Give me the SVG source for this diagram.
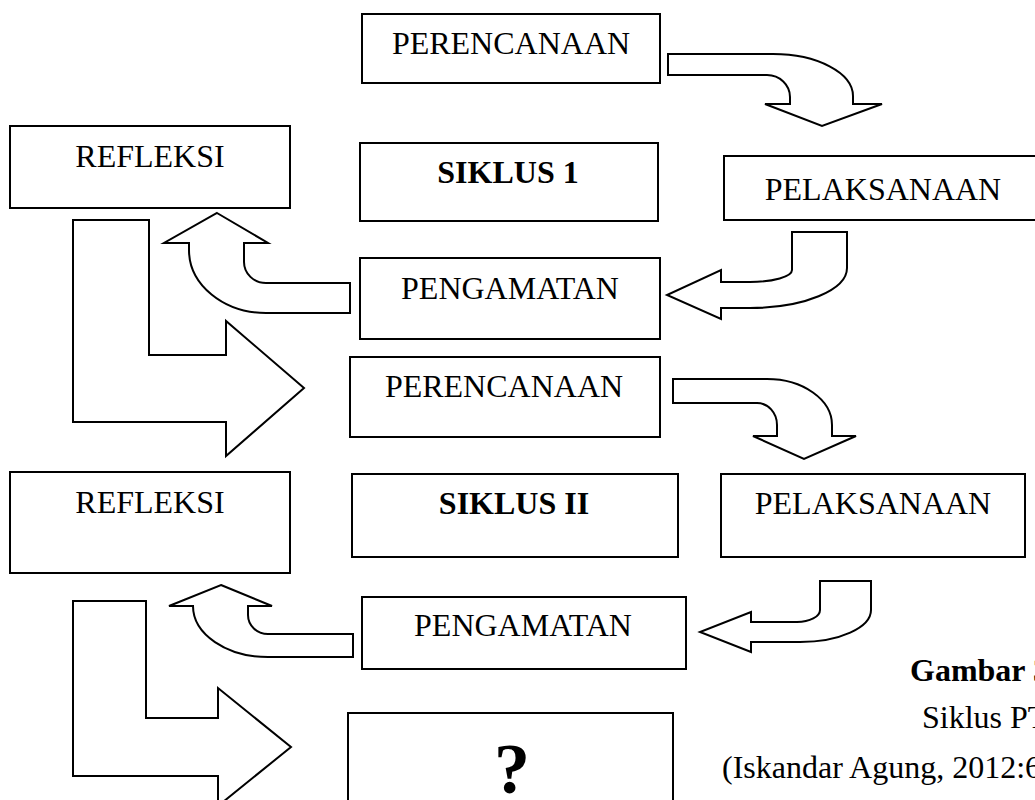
<svg xmlns="http://www.w3.org/2000/svg" width="1035" height="800" viewBox="0 0 1035 800">
<style>
.box{fill:#fff;stroke:#000;stroke-width:2}
.arr{fill:#fff;stroke:#000;stroke-width:2;stroke-linejoin:miter}
text{font-family:"Liberation Serif","Times New Roman",serif;font-size:32px;fill:#000}
.c{text-anchor:middle}
.b{font-weight:bold}
</style>
<rect width="1035" height="800" fill="#fff"/>
<g id="connectors">
<path class="arr" d="M 668 54 H 773 A 80 42 0 0 1 853 96 V 104 H 882 L 822 126 L 765 104 H 790 V 97 A 23 22 0 0 0 767 75 H 668 Z"/>
<path class="arr" d="M 792 232 H 847 V 268 A 97 40 0 0 1 750 308 H 721 V 319 L 667 295 L 721 270 V 282 H 750 A 42 12 0 0 0 792 270 Z"/>
<path class="arr" d="M 217 213 L 268 243 H 244 V 262 A 22 21 0 0 0 266 283 H 350 V 313 H 266 A 77 63 0 0 1 189 250 V 243 H 164 Z"/>
<path class="arr" d="M 73 220 H 149 V 355 H 226 V 321 L 304 388 L 226 456 V 422 H 73 Z"/>
<path class="arr" d="M 673 379 H 767 A 65 46 0 0 1 832 425 V 436 H 856 L 804 459 L 753 436 H 777 V 425 A 20 22 0 0 0 757 403 H 673 Z"/>
<path class="arr" d="M 820 581 H 871 V 610 A 71 32 0 0 1 800 642 H 751 V 652 L 700 632 L 751 612 V 622 H 797 A 23 12 0 0 0 820 610 Z"/>
<path class="arr" d="M 221 585 L 272 606 H 248 V 615 A 20 19 0 0 0 268 634 H 353 V 657 H 268 A 75 51 0 0 1 193 606 H 169 Z"/>
<path class="arr" d="M 73 601 H 146 V 718 H 218 V 688 L 291 747 L 218 806 V 776 H 73 Z"/>
</g>
<g id="perencanaan1"><rect class="box" x="362" y="14" width="298" height="69"/><text class="c" x="511" y="54">PERENCANAAN</text></g>
<g id="refleksi1"><rect class="box" x="10" y="126" width="280" height="82"/><text class="c" x="150" y="167">REFLEKSI</text></g>
<g id="siklus1"><rect class="box" x="360" y="143" width="298" height="78"/><text class="c b" x="508" y="183">SIKLUS 1</text></g>
<g id="pelaksanaan1"><rect class="box" x="724" y="156" width="318" height="64"/><text class="c" x="883" y="200">PELAKSANAAN</text></g>
<g id="pengamatan1"><rect class="box" x="360" y="258" width="300" height="81"/><text class="c" x="510" y="299">PENGAMATAN</text></g>
<g id="perencanaan2"><rect class="box" x="350" y="357" width="310" height="80"/><text class="c" x="504" y="397">PERENCANAAN</text></g>
<g id="refleksi2"><rect class="box" x="10" y="472" width="280" height="101"/><text class="c" x="150" y="513">REFLEKSI</text></g>
<g id="siklus2"><rect class="box" x="352" y="474" width="326" height="83"/><text class="c b" x="514" y="514">SIKLUS II</text></g>
<g id="pelaksanaan2"><rect class="box" x="721" y="474" width="304" height="83"/><text class="c" x="873" y="514">PELAKSANAAN</text></g>
<g id="pengamatan2"><rect class="box" x="362" y="597" width="324" height="72"/><text class="c" x="523" y="636">PENGAMATAN</text></g>
<g id="question"><rect class="box" x="348" y="713" width="325" height="100"/><text class="c b" x="512" y="793" style="font-size:72px">?</text></g>
<g id="caption">
<text class="b" x="910" y="681">Gambar 3</text>
<text x="922" y="728">Siklus PT</text>
<text x="722" y="778">(Iskandar Agung, 2012:6</text>
</g>
</svg>
